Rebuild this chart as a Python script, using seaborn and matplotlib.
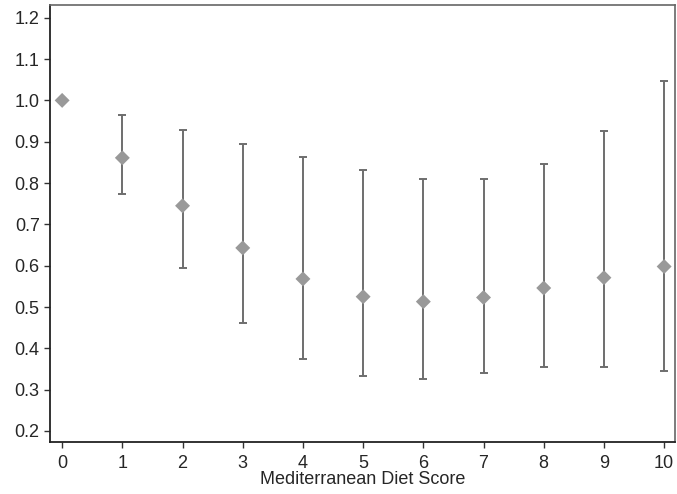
import numpy as np
import pandas as pd
import matplotlib
matplotlib.use("Agg")
import matplotlib.pyplot as plt
import seaborn as sns

# data
score = [0, 1, 2, 3, 4, 5, 6, 7, 8, 9, 10]
estimate = [1.0, 0.861, 0.745, 0.643, 0.568, 0.525, 0.513, 0.523, 0.546, 0.571, 0.598]
ci_low = [np.nan, 0.773, 0.595, 0.462, 0.375, 0.332, 0.325, 0.341, 0.354, 0.355, 0.344]
ci_high = [np.nan, 0.964, 0.928, 0.895, 0.862, 0.832, 0.810, 0.810, 0.846, 0.925, 1.046]
y_ticks = [0.2, 0.3, 0.4, 0.5, 0.6, 0.7, 0.8, 0.9, 1.0, 1.1, 1.2]

df = pd.DataFrame({"score": score, "est": estimate, "lo": ci_low, "hi": ci_high})

sns.set_style("ticks")
plt.rcParams["font.family"] = ["Liberation Sans", "DejaVu Sans"]

fig, ax = plt.subplots(figsize=(6.77, 4.94), dpi=100)
fig.subplots_adjust(left=0.074, right=0.997, top=0.99, bottom=0.105)

ci = df.dropna()
ax.errorbar(ci["score"], ci["est"],
            yerr=[ci["est"] - ci["lo"], ci["hi"] - ci["est"]],
            fmt="none", ecolor="#6e6e6e", elinewidth=1.4,
            capsize=3, capthick=1.4, zorder=2)
sns.scatterplot(data=df, x="score", y="est", marker="D", s=58,
                color="#999999", edgecolor="none", zorder=3, ax=ax)

ax.set_xlim(-0.2, 10.18)
ax.set_ylim(0.173, 1.231)
ax.set_xticks(score)
ax.set_yticks(y_ticks)
ax.set_yticklabels([f"{t:.1f}" for t in y_ticks])
ax.set_xlabel("Mediterranean Diet Score", fontsize=13, labelpad=-1)
ax.set_ylabel("")
ax.tick_params(axis="both", labelsize=13, length=4.5, width=1, color="#333333",
               direction="out", pad=3)
ax.tick_params(axis="x", pad=5)

for side in ["left", "bottom"]:
    ax.spines[side].set_color("#222222")
    ax.spines[side].set_linewidth(1.3)
for side in ["top", "right"]:
    ax.spines[side].set_visible(True)
    ax.spines[side].set_color("#666666")
    ax.spines[side].set_linewidth(1.2)

fig.savefig("out.png", dpi=100)
